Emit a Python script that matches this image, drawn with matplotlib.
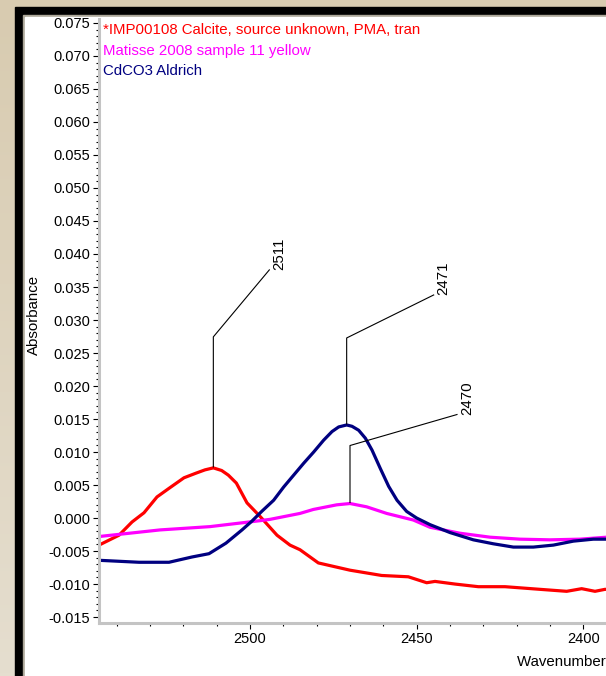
import matplotlib.pyplot as plt
import numpy as np
from matplotlib.patches import Rectangle
from matplotlib.ticker import MultipleLocator, FormatStrFormatter

plt.rcParams['font.family'] = ['Liberation Sans', 'DejaVu Sans']
plt.rcParams['font.size'] = 10.8
plt.rcParams['axes.unicode_minus'] = False

# spectra (wavenumber, absorbance)
calcite_x = [2547, 2545.3, 2539.3, 2535.4, 2531.8, 2527.9, 2524.3, 2519.8, 2516.2, 2513.5, 2511,
             2508.5, 2506.5, 2504.1, 2500.9, 2496.9, 2491.9, 2488, 2485, 2479.5, 2470, 2460.5,
             2452.5, 2447, 2444.5, 2438.5, 2431.5, 2423.5, 2413, 2405, 2400.5, 2396.5,
             2393.5, 2385, 2375]
calcite_y = [-0.0045, -0.0041, -0.0026, -0.0006, 0.0008, 0.0032, 0.0045, 0.0061, 0.0068, 0.0073, 0.0076,
             0.0072, 0.0065, 0.0053, 0.0023, 0.0002, -0.0026, -0.0041, -0.0048, -0.0068, -0.0079, -0.0087,
             -0.0089, -0.0098, -0.0096, -0.0100, -0.0104, -0.0104, -0.0108, -0.0111, -0.0107, -0.0111,
             -0.0108, -0.0109, -0.0110]

matisse_x = [2547, 2545.3, 2527, 2512, 2497, 2494, 2485, 2481, 2474, 2470,
             2465, 2459, 2451, 2446, 2437, 2428, 2419, 2410, 2401, 2393,
             2385, 2375]
matisse_y = [-0.0029, -0.0028, -0.0018, -0.0013, -0.0004, -0.0002, 0.0007, 0.0013, 0.0020, 0.0022,
             0.0017, 0.0007, -0.0003, -0.0014, -0.0023, -0.0029, -0.0032, -0.0033, -0.0032, -0.0029,
             -0.0028, -0.0028]

cdco3_x = [2547, 2545.3, 2533.3, 2524.3, 2517.4, 2512.3, 2507.2, 2502.4, 2499.5, 2496.5,
           2492.9, 2489.9, 2486.9, 2483.9, 2480.9, 2477.9, 2475.4, 2473.4, 2471, 2469.4,
           2467.4, 2465.4, 2463.4, 2460.9, 2458.4, 2455.9, 2453, 2450, 2446, 2440,
           2433, 2427, 2421, 2415, 2409, 2403, 2397, 2392, 2385, 2375]
cdco3_y = [-0.0064, -0.0064, -0.0067, -0.0067, -0.0059, -0.0054, -0.0038, -0.0018, -0.0005, 0.0010,
           0.0027, 0.0047, 0.0065, 0.0083, 0.0100, 0.0118, 0.0131, 0.0138, 0.0141, 0.0139,
           0.0133, 0.0121, 0.0103, 0.0075, 0.0048, 0.0027, 0.0010, 0.0000, -0.0010, -0.0022,
           -0.0033, -0.0039, -0.0044, -0.0044, -0.0041, -0.0035, -0.0032, -0.0032, -0.0031, -0.0031]

series_names = ["*IMP00108 Calcite, source unknown, PMA, tran",
                "Matisse 2008 sample 11 yellow",
                "CdCO3 Aldrich"]
series_colors = ['#ff0000', '#ff00ff', '#000080']

# labelled peaks
peak_pos = [2511, 2471, 2470]
peak_abs = [0.0076, 0.0141, 0.0022]

W, H = 606, 676
fig = plt.figure(figsize=(W / 100, H / 100), dpi=100)


def fx(px):
    return px / W


def fy(py):
    return 1 - py / H


# beige window background with the black frame
bg = fig.add_axes([0, 0, 1, 1], zorder=-2)
grad = np.linspace(0, 1, 200)[:, None, None]
top_c = np.array([216, 203, 176]) / 255
bot_c = np.array([229, 222, 207]) / 255
bg.imshow(top_c + (bot_c - top_c) * grad, aspect='auto', extent=[0, 1, 0, 1])
bg.set_axis_off()

fig.add_artist(Rectangle((fx(15), 0), 1, fy(7), color='black', transform=fig.transFigure, zorder=1))
fig.add_artist(Rectangle((fx(23), 0), 1, fy(15), color='#aca799', transform=fig.transFigure, zorder=1))
fig.add_artist(Rectangle((fx(25), 0), 1, fy(17), color='white', transform=fig.transFigure, zorder=1))

ax = fig.add_axes([fx(99), fy(623), (700 - 99) / W, (623 - 19) / H])
ax.set_zorder(5)
ax.set_xlim(2545.3, 2365.0)
ax.set_ylim(-0.0159, 0.0756)

ax.plot(calcite_x, calcite_y, color=series_colors[0], lw=2.3, solid_joinstyle='round')
ax.plot(matisse_x, matisse_y, color=series_colors[1], lw=2.3, solid_joinstyle='round')
ax.plot(cdco3_x, cdco3_y, color=series_colors[2], lw=2.3, solid_joinstyle='round')

ax.yaxis.set_major_locator(MultipleLocator(0.005))
ax.yaxis.set_minor_locator(MultipleLocator(0.001))
ax.yaxis.set_major_formatter(FormatStrFormatter('%.3f'))
ax.xaxis.set_major_locator(MultipleLocator(50))
ax.xaxis.set_minor_locator(MultipleLocator(10))
ax.tick_params(which='major', direction='out', length=4, width=0.8, color='black', pad=2.5, labelsize=10.5)
ax.tick_params(which='minor', direction='out', length=2.5, width=0.8, color='black')

for side in ['top', 'right']:
    ax.spines[side].set_visible(False)
for side in ['left', 'bottom']:
    ax.spines[side].set_color('#c4c4c4')
    ax.spines[side].set_linewidth(2.2)

# peak leader lines: vertical rise then slanted run, in pixels
leaders = [(131, 56, 198), (87, 87, 130), (58, 107, 89)]
to_data = ax.transData.inverted()
for wn, ab, (rise, dx, dy) in zip(peak_pos, peak_abs, leaders):
    px, py = ax.transData.transform((wn, ab))
    pts = to_data.transform([(px, py + 1), (px, py + rise), (px + dx, py + dy)])
    ax.plot(pts[:, 0], pts[:, 1], color='black', lw=0.8, clip_on=False)
    tx, ty = to_data.transform((px + dx + 3, py + dy))
    ax.text(tx, ty, str(wn), rotation=90, ha='left', va='bottom')

for i, name in enumerate(series_names):
    fig.text(fx(103), fy(30 + 20.5 * i), name, color=series_colors[i],
             ha='left', va='center', zorder=10)

fig.text(fx(34), fy(315), 'Absorbance', rotation=90, ha='center', va='center')
fig.text(fx(517), fy(662), 'Wavenumbers (cm-1)', ha='left', va='center')

fig.savefig('out.png', dpi=100)
